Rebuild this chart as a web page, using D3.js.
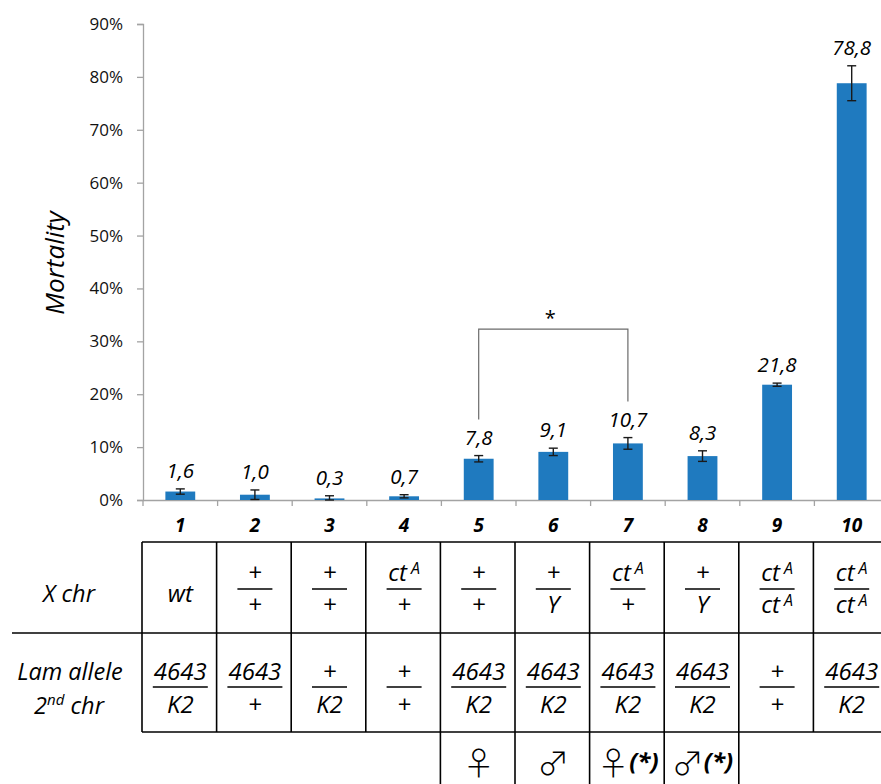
<!DOCTYPE html>
<html>
<head>
<meta charset="utf-8">
<script src="https://cdn.jsdelivr.net/npm/d3@7"></script>
<style>
  html, body { margin: 0; padding: 0; background: #fff; }
  svg { display: block; font-family: "Open Sans", Lato, sans-serif; }
</style>
</head>
<body>
<svg id="chart" width="881" height="784"></svg>
<script>
// Mortality (%) per genotype group, with standard error
const categories = ["1", "2", "3", "4", "5", "6", "7", "8", "9", "10"];
const mortality = [1.6, 1.0, 0.3, 0.7, 7.8, 9.1, 10.7, 8.3, 21.8, 78.8];
const errors = [0.5, 0.9, 0.5, 0.3, 0.6, 0.7, 1.1, 1.0, 0.3, 3.3];
const valueLabels = ["1,6", "1,0", "0,3", "0,7", "7,8", "9,1", "10,7", "8,3", "21,8", "78,8"];
const yTicks = [0, 10, 20, 30, 40, 50, 60, 70, 80, 90];

// Genotype table: [numerator, denominator]; "^" marks a superscript
const xChr = [["wt"], ["+", "+"], ["+", "+"], ["ct^A", "+"], ["+", "+"], ["+", "Y"],
              ["ct^A", "+"], ["+", "Y"], ["ct^A", "ct^A"], ["ct^A", "ct^A"]];
const lamAllele = [["4643", "K2"], ["4643", "+"], ["+", "K2"], ["+", "+"], ["4643", "K2"],
                   ["4643", "K2"], ["4643", "K2"], ["4643", "K2"], ["+", "+"], ["4643", "K2"]];
const sexSymbols = ["", "", "", "", "♀", "♂", "♀", "♂", "", ""];
const sexMarks = ["", "", "", "", "", "", "(*)", "(*)", "", ""];

// Significance bracket between groups 5 and 7
const sigPair = ["5", "7"];
const sigLevel = 32.3;

const svg = d3.select("#chart");
const left = 143, bandW = 74.6;
const x = d3.scaleBand().domain(categories).range([left, left + bandW * categories.length]);
const y = d3.scaleLinear().domain([0, 90]).range([500, 24]);
const cx = c => x(c) + x.bandwidth() / 2;
const axisGrey = "#a3a3a3";

// Y axis
const yAxis = svg.append("g")
  .attr("transform", `translate(${left},0)`)
  .call(d3.axisLeft(y).tickValues(yTicks).tickFormat(d => d + "%").tickSize(6).tickPadding(14));
yAxis.select(".domain").attr("stroke", axisGrey).attr("stroke-width", 1.3);
yAxis.selectAll(".tick line").attr("stroke", axisGrey).attr("stroke-width", 1.3);
yAxis.selectAll(".tick text").attr("font-family", "Open Sans").attr("font-size", 17).attr("fill", "#111");

// X axis
const xAxis = svg.append("g")
  .attr("transform", `translate(0,${y(0)})`)
  .call(d3.axisBottom(x).tickSize(0).tickFormat(""));
xAxis.select(".domain").attr("stroke", axisGrey).attr("stroke-width", 1.3);
xAxis.selectAll(".tick").remove();
svg.append("g").selectAll("line")
  .data(categories.concat(["end"]))
  .join("line")
  .attr("x1", (d, i) => left + i * x.bandwidth())
  .attr("x2", (d, i) => left + i * x.bandwidth())
  .attr("y1", y(0)).attr("y2", y(0) + 6)
  .attr("stroke", axisGrey).attr("stroke-width", 1.3);

// Category numbers
svg.append("g").selectAll("text")
  .data(categories)
  .join("text")
  .attr("x", d => cx(d))
  .attr("y", 532)
  .attr("text-anchor", "middle")
  .attr("font-size", 19).attr("font-weight", "bold").attr("font-style", "italic")
  .attr("fill", "#000")
  .text(d => d);

// Y axis title
svg.append("text")
  .attr("transform", "translate(64,263) rotate(-90)")
  .attr("text-anchor", "middle")
  .attr("font-size", 26).attr("font-style", "italic").attr("fill", "#000")
  .text("Mortality");

// Bars
const barW = x.bandwidth() * 0.4;
svg.append("g").selectAll("rect")
  .data(mortality)
  .join("rect")
  .attr("x", (d, i) => cx(categories[i]) - barW / 2)
  .attr("width", barW)
  .attr("y", d => y(d))
  .attr("height", d => y(0) - y(d))
  .attr("fill", "#1f7abf");

// Error bars
const eb = svg.append("g").attr("stroke", "#1a1a1a").attr("stroke-width", 1.4);
mortality.forEach((v, i) => {
  const c = cx(categories[i]);
  const lo = Math.max(0, v - errors[i]), hi = v + errors[i];
  eb.append("line").attr("x1", c).attr("x2", c).attr("y1", y(lo)).attr("y2", y(hi));
  eb.append("line").attr("x1", c - 4.5).attr("x2", c + 4.5).attr("y1", y(hi)).attr("y2", y(hi));
  eb.append("line").attr("x1", c - 4.5).attr("x2", c + 4.5).attr("y1", y(lo)).attr("y2", y(lo));
});

// Value labels
svg.append("g").selectAll("text")
  .data(mortality)
  .join("text")
  .attr("x", (d, i) => cx(categories[i]))
  .attr("y", (d, i) => y(d + errors[i]) - 11)
  .attr("text-anchor", "middle")
  .attr("font-size", 20.5).attr("font-style", "italic").attr("fill", "#000")
  .text((d, i) => valueLabels[i]);

// Significance bracket
{
  const i0 = categories.indexOf(sigPair[0]), i1 = categories.indexOf(sigPair[1]);
  const x0 = cx(sigPair[0]), x1 = cx(sigPair[1]);
  const b0 = y(mortality[i0] + errors[i0]) - 36;
  const b1 = y(mortality[i1] + errors[i1]) - 36;
  const top = y(sigLevel);
  svg.append("path")
    .attr("d", `M${x0},${b0}V${top}H${x1}V${b1}`)
    .attr("fill", "none").attr("stroke", "#6b6b6b").attr("stroke-width", 1.2);
  svg.append("text")
    .attr("x", (x0 + x1) / 2 - 3).attr("y", top - 4)
    .attr("text-anchor", "middle").attr("font-size", 20).attr("fill", "#000")
    .text("*");
}

// Genotype table
const tTop = 542, tMid = 633, tBot = 732, tEnd = 790;
const rightEdge = left + bandW * categories.length;
const grid = svg.append("g").attr("stroke", "#000").attr("stroke-width", 1.6);
grid.append("line").attr("x1", left - 1).attr("x2", rightEdge).attr("y1", tTop).attr("y2", tTop);
grid.append("line").attr("x1", 12).attr("x2", rightEdge).attr("y1", tMid).attr("y2", tMid);
grid.append("line").attr("x1", left - 1).attr("x2", rightEdge).attr("y1", tBot).attr("y2", tBot);
d3.range(categories.length + 1).forEach(i => {
  const xx = left - 1 + i * x.bandwidth();
  const hasSex = (i >= 4 && i <= 8);
  grid.append("line").attr("x1", xx).attr("x2", xx)
    .attr("y1", tTop).attr("y2", hasSex ? tEnd : tBot);
});

// Row headers
const hdr = svg.append("g").attr("font-style", "italic").attr("font-size", 23.5)
  .attr("text-anchor", "middle").attr("fill", "#000");
hdr.append("text").attr("x", 69).attr("y", 602).text("X chr");
hdr.append("text").attr("x", 70).attr("y", 680).text("Lam allele");
const h2 = hdr.append("text").attr("x", 69).attr("y", 714);
h2.append("tspan").text("2");
h2.append("tspan").attr("dy", -9).attr("font-size", 15).text("nd");
h2.append("tspan").attr("dy", 9).text(" chr");

function allele(g, str, xx, yy) {
  const t = g.append("text").attr("x", xx).attr("y", yy)
    .attr("text-anchor", "middle").attr("font-style", "italic").attr("font-size", 24);
  const parts = str.split("^");
  t.append("tspan").text(parts[0]);
  if (parts[1]) {
    t.append("tspan").attr("dx", 4).attr("dy", -7).attr("font-size", 16).text(parts[1]);
  }
  return t;
}

function fractionCell(g, cell, xx, numY, lineY, denY, centreY) {
  if (cell.length === 1) {
    allele(g, cell[0], xx, centreY);
    return;
  }
  const wide = cell.some(s => s.length > 3 && !s.includes("^"));
  const w = wide ? 55 : 35;
  allele(g, cell[0], xx, numY);
  g.append("line").attr("x1", xx - w / 2).attr("x2", xx + w / 2)
    .attr("y1", lineY).attr("y2", lineY).attr("stroke", "#000").attr("stroke-width", 1.5);
  allele(g, cell[1], xx, denY);
}

const cells = svg.append("g").attr("fill", "#000");
xChr.forEach((cell, i) => fractionCell(cells, cell, cx(categories[i]), 581, 589, 613, 602));
lamAllele.forEach((cell, i) => fractionCell(cells, cell, cx(categories[i]), 680, 687, 713, 690));

// Sex row
sexSymbols.forEach((s, i) => {
  if (!s) return;
  const t = cells.append("text").attr("x", cx(categories[i])).attr("y", 775)
    .attr("text-anchor", "middle");
  t.append("tspan").attr("font-family", "Noto Sans CJK JP").attr("font-weight", 300)
    .attr("font-size", 32).text(s);
  if (sexMarks[i]) {
    t.append("tspan").attr("font-size", 24).attr("font-weight", "bold")
      .attr("font-style", "italic").attr("dy", -5).text(sexMarks[i]);
  }
});
</script>
</body>
</html>
